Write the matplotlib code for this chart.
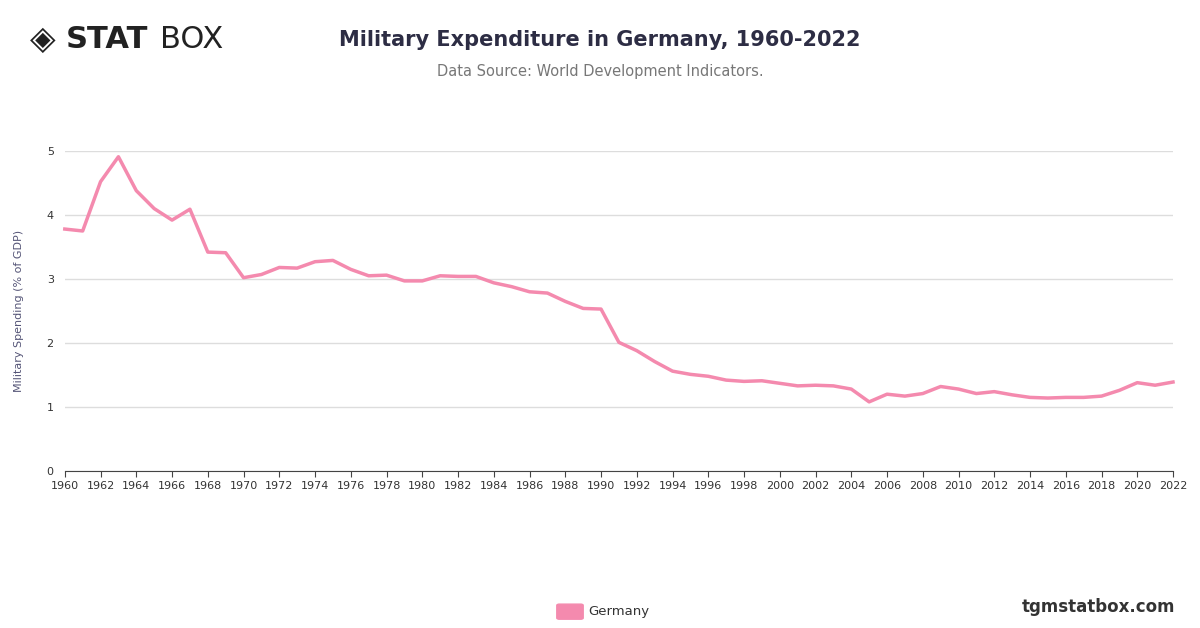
import matplotlib
matplotlib.use("Agg")
import matplotlib.pyplot as plt
from matplotlib.patches import FancyBboxPatch

years = list(range(1960, 2023))
spending = [3.78, 3.75, 4.52, 4.91, 4.38, 4.10, 3.92, 4.09, 3.42, 3.41,
            3.02, 3.07, 3.18, 3.17, 3.27, 3.29, 3.15, 3.05, 3.06, 2.97,
            2.97, 3.05, 3.04, 3.04, 2.94, 2.88, 2.80, 2.78, 2.65, 2.54,
            2.53, 2.01, 1.88, 1.71, 1.56, 1.51, 1.48, 1.42, 1.40, 1.41,
            1.37, 1.33, 1.34, 1.33, 1.28, 1.08, 1.20, 1.17, 1.21, 1.32,
            1.28, 1.21, 1.24, 1.19, 1.15, 1.14, 1.15, 1.15, 1.17, 1.26,
            1.38, 1.34, 1.39]
yticks = [0, 1, 2, 3, 4, 5]
xticks = list(range(1960, 2023, 2))

color = "#f48aae"
fig = plt.figure(figsize=(12, 6.28), dpi=100)
ax = fig.add_axes([0.054, 0.25, 0.9235, 0.5096])
ax.plot(years, spending, color=color, lw=2.5, clip_on=False)
ax.set_xlim(1960, 2022)
ax.set_ylim(0, 5)
ax.set_yticks(yticks)
ax.set_xticks(xticks)
ax.grid(axis="y", color="#dddddd", lw=1)
ax.set_axisbelow(True)
for s in ["top", "right", "left"]:
    ax.spines[s].set_visible(False)
ax.spines["bottom"].set_color("#444444")
ax.tick_params(axis="y", length=0, labelsize=8, colors="#333333", pad=8)
ax.tick_params(axis="x", length=4, labelsize=8, colors="#333333", color="#444444")
ax.set_ylabel("Military Spending (% of GDP)", fontsize=8, color="#555577", labelpad=16)

fig.text(0.5, 0.937, "Military Expenditure in Germany, 1960-2022", ha="center",
         va="center", fontsize=15, fontweight="bold", color="#2d2d44")
fig.text(0.5, 0.886, "Data Source: World Development Indicators.", ha="center",
         va="center", fontsize=10.5, color="#777777")
fig.text(0.025, 0.937, "\u25C8", fontsize=24, color="#222222", va="center")
fig.text(0.055, 0.937, "STAT", fontsize=22, fontweight="bold", color="#222222", va="center")
fig.text(0.133, 0.937, "BOX", fontsize=22, color="#222222", va="center")
fig.text(0.979, 0.034, "tgmstatbox.com", ha="right", va="center", fontsize=12,
         fontweight="bold", color="#333333")
fig.patches.append(FancyBboxPatch((0.466, 0.016), 0.018, 0.02, boxstyle="round,pad=0.002",
                                  transform=fig.transFigure, color=color))
fig.text(0.49, 0.027, "Germany", va="center", fontsize=9.5, color="#333333")
fig.savefig("out.png")
